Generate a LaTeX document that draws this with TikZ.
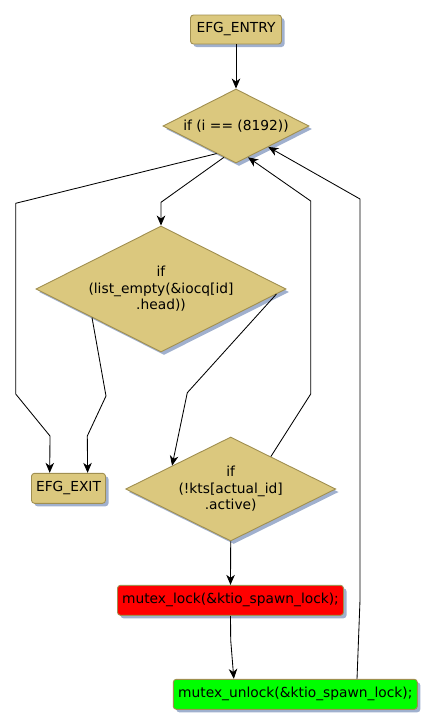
\documentclass[tikz,border=0pt]{standalone}
\usepackage{fontspec}
\setmainfont{DejaVu Sans}
\usetikzlibrary{shapes.geometric,shadows,arrows.meta,calc}
\definecolor{tanfill}{RGB}{219,200,126}
\definecolor{oliveline}{RGB}{160,143,80}
\definecolor{shad}{RGB}{160,176,206}
\begin{document}
\begin{tikzpicture}[x=1pt,y=-1pt,
  base/.style={draw=oliveline, line width=0.9pt, inner sep=0pt, align=center,
    font=\fontsize{13.8}{16.4}\selectfont,
    drop shadow={shadow xshift=3pt,shadow yshift=-3pt,fill=shad,opacity=1}},
  box/.style={base, rectangle, rounded corners=3pt},
  dia/.style={base, diamond, shape aspect=2, fill=tanfill},
  edge/.style={line width=0.85pt, -{Stealth[length=10pt,width=8.5pt,inset=3pt]}}]
\useasboundingbox (0,0) rectangle (436,728);

\node[box, fill=tanfill, minimum width=91pt, minimum height=29pt] (entry) at (236,29.5) {EFG\_ENTRY};
\node[dia, minimum width=146pt, minimum height=74pt] (d1) at (236,126) {if (i == (8192))};
\node[dia, minimum width=250pt, minimum height=126pt] (d2) at (161,289) {if\\(list\_empty(\&iocq[id]\\.head))};
\node[box, fill=tanfill, minimum width=74pt, minimum height=30pt] (exit) at (68.5,488.3) {EFG\_EXIT};
\node[dia, minimum width=210pt, minimum height=104pt] (d3) at (230.7,489) {if\\(!kts[actual\_id]\\.active)};
\node[box, fill=red, minimum width=226pt, minimum height=30pt] (lock) at (230.5,600.3) {mutex\_lock(\&ktio\_spawn\_lock);};
\node[box, fill=green, minimum width=244pt, minimum height=30pt] (unlock) at (295.3,694.3) {mutex\_unlock(\&ktio\_spawn\_lock);};

\draw[edge] (entry.south) -- (d1.north);
\draw[edge] ($(d1.south)!0.164!(d1.west)$) -- (161,202.3) -- (d2.north);
\draw[edge] ($(d1.south)!0.264!(d1.west)$) -- (15.7,203.3) -- (15.7,394) -- (50,436) -- ($(exit.north west)!0.249!(exit.north east)$);
\draw[edge] ($(d2.south)!0.55!(d2.west)$) -- (106,396) -- (87.3,436) -- ($(exit.north west)!0.755!(exit.north east)$);
\draw[edge] ($(d2.east)!0.08!(d2.south)$) -- (187.3,392.7) -- ($(d3.north)!0.556!(d3.west)$);
\draw[edge] ($(d3.north)!0.381!(d3.east)$) -- (310.7,394) -- (310.7,201) -- ($(d1.south)!0.164!(d1.east)$);
\draw[edge] (d3.south) -- (lock.north);
\draw[edge] (lock.south) -- (230.7,640) -- ($(unlock.north west)!0.249!(unlock.north east)$);
\draw[edge] ($(unlock.north west)!0.752!(unlock.north east)$) -- (360,600) -- (360,199) -- ($(d1.south)!0.44!(d1.east)$);
\end{tikzpicture}
\end{document}
